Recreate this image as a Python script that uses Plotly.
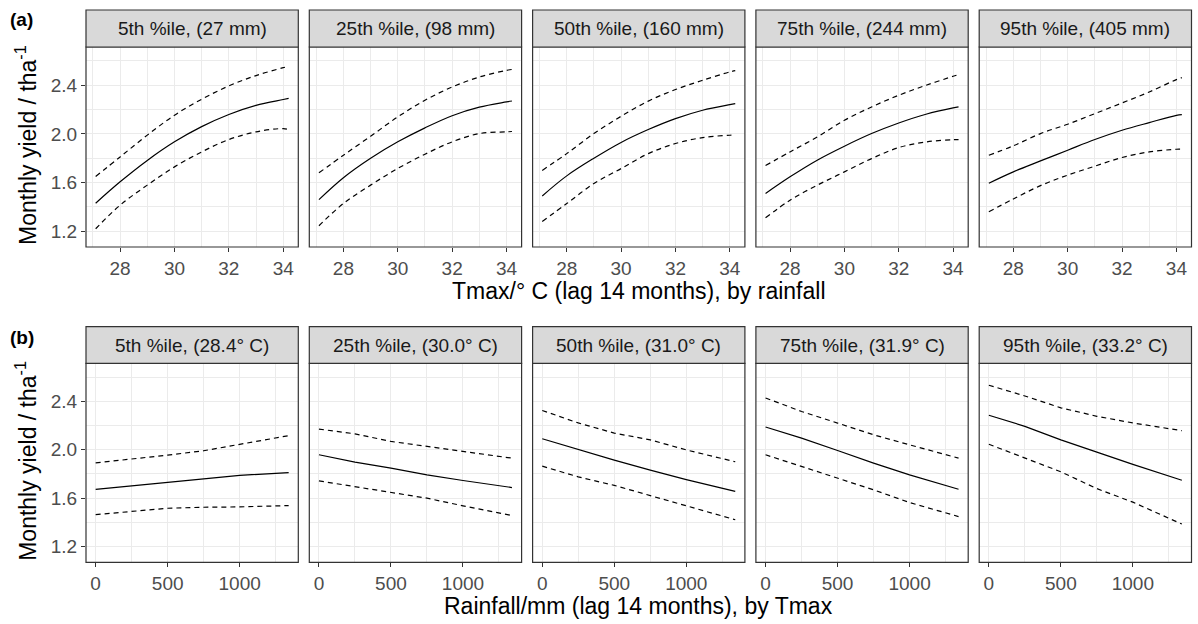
import plotly.graph_objects as go

# ---------------- data ----------------
tmax_x = [27.1, 28, 29, 30, 31, 32, 33, 34, 34.2]
rain_x = [0, 250, 500, 750, 1000, 1340]

strip_a = ["5th %ile, (27 mm)", "25th %ile, (98 mm)", "50th %ile, (160 mm)",
           "75th %ile, (244 mm)", "95th %ile, (405 mm)"]
strip_b = ["5th %ile, (28.4° C)", "25th %ile, (30.0° C)", "50th %ile, (31.0° C)",
           "75th %ile, (31.9° C)", "95th %ile, (33.2° C)"]

fit_a = [
    [1.43, 1.606, 1.782, 1.935, 2.06, 2.16, 2.235, 2.283, 2.293],
    [1.46, 1.64, 1.80, 1.935, 2.05, 2.15, 2.22, 2.263, 2.271],
    [1.49, 1.655, 1.80, 1.93, 2.036, 2.126, 2.195, 2.241, 2.249],
    [1.51, 1.647, 1.784, 1.899, 2.003, 2.09, 2.162, 2.214, 2.222],
    [1.595, 1.688, 1.778, 1.866, 1.954, 2.030, 2.093, 2.153, 2.159],
]
upper_a = [
    [1.65, 1.811, 1.99, 2.154, 2.285, 2.395, 2.48, 2.545, 2.555],
    [1.68, 1.825, 1.981, 2.14, 2.277, 2.386, 2.468, 2.523, 2.53],
    [1.70, 1.838, 2.003, 2.145, 2.27, 2.365, 2.441, 2.51, 2.52],
    [1.74, 1.852, 1.975, 2.112, 2.222, 2.318, 2.40, 2.474, 2.488],
    [1.825, 1.902, 2.003, 2.080, 2.167, 2.255, 2.345, 2.447, 2.463],
]
lower_a = [
    [1.22, 1.414, 1.579, 1.729, 1.852, 1.954, 2.017, 2.044, 2.035],
    [1.245, 1.428, 1.579, 1.716, 1.833, 1.935, 2.003, 2.017, 2.02],
    [1.28, 1.427, 1.592, 1.715, 1.838, 1.921, 1.970, 1.989, 1.99],
    [1.31, 1.455, 1.578, 1.688, 1.797, 1.888, 1.934, 1.953, 1.953],
    [1.36, 1.465, 1.575, 1.661, 1.735, 1.806, 1.852, 1.874, 1.874],
]

fit_b = [
    [1.672, 1.70, 1.728, 1.76, 1.789, 1.811],
    [1.959, 1.898, 1.848, 1.793, 1.746, 1.688],
    [2.091, 2.0, 1.915, 1.832, 1.754, 1.656],
    [2.188, 2.097, 1.994, 1.890, 1.793, 1.674],
    [2.286, 2.194, 2.082, 1.979, 1.879, 1.748],
]
upper_b = [
    [1.892, 1.922, 1.956, 1.992, 2.044, 2.117],
    [2.171, 2.132, 2.069, 2.028, 1.986, 1.931],
    [2.325, 2.222, 2.138, 2.082, 1.999, 1.901],
    [2.428, 2.317, 2.221, 2.124, 2.041, 1.931],
    [2.534, 2.445, 2.347, 2.277, 2.222, 2.158],
]
lower_b = [
    [1.464, 1.492, 1.517, 1.525, 1.528, 1.539],
    [1.743, 1.697, 1.647, 1.60, 1.537, 1.457],
    [1.865, 1.776, 1.706, 1.622, 1.539, 1.422],
    [1.959, 1.862, 1.766, 1.669, 1.564, 1.448],
    [2.046, 1.929, 1.818, 1.679, 1.567, 1.386],
]

y_title = "Monthly yield / tha<sup>-1</sup>"
x_title_a = "Tmax/° C (lag 14 months), by rainfall"
x_title_b = "Rainfall/mm (lag 14 months), by Tmax"

# ---------------- layout geometry (pixels) ----------------
W, H = 1198, 624
FONT = "Liberation Sans, Arial, sans-serif"
def px(x): return x / W
def py(y): return 1 - y / H

left0, pitch, pw = 86, 223.3, 212.3
rows = [  # strip top, plot top, plot bottom
    (10, 47, 247),
    (326.7, 363.3, 562.3),
]
y_range = [1.07, 2.715]
x_ranges = [[26.745, 34.555], [-67, 1407]]

fig = go.Figure()
layout = {}
shapes = []
annotations = []
GRID = "#EBEBEB"
BORDER = "#333333"
TICK_SIZE = 19
STRIP_SIZE = 19
TITLE_SIZE = 23
DASH = "5px,4px"

for r in range(2):
    st, pt, pb = rows[r]
    for c in range(5):
        k = r * 5 + c + 1
        xa = "x" if k == 1 else f"x{k}"
        ya = "y" if k == 1 else f"y{k}"
        xk = "xaxis" if k == 1 else f"xaxis{k}"
        yk = "yaxis" if k == 1 else f"yaxis{k}"
        x0 = left0 + pitch * c
        x1 = x0 + pw
        if r == 0:
            xs = tmax_x
            series = [(upper_a[c], DASH), (lower_a[c], DASH), (fit_a[c], "solid")]
            xticks = dict(tickmode="array", tickvals=[28, 30, 32, 34])
            minor = dict(tickmode="array", tickvals=[27, 29, 31, 33], showgrid=True,
                         gridcolor=GRID, gridwidth=0.6, ticks="")
            shape = "spline"
        else:
            xs = rain_x
            series = [(upper_b[c], DASH), (lower_b[c], DASH), (fit_b[c], "solid")]
            xticks = dict(tickmode="array", tickvals=[0, 500, 1000])
            minor = dict(tickmode="array", tickvals=[250, 750, 1250], showgrid=True,
                         gridcolor=GRID, gridwidth=0.6, ticks="")
            shape = "linear"
        for ys, dash in series:
            fig.add_trace(go.Scatter(x=xs, y=ys, mode="lines", xaxis=xa, yaxis=ya,
                                     line=dict(color="black", width=1.2, dash=dash, shape=shape),
                                     showlegend=False, hoverinfo="skip"))
        layout[xk] = dict(domain=[px(x0), px(x1)], anchor=ya, range=x_ranges[r],
                          showgrid=True, gridcolor=GRID, gridwidth=1.1, zeroline=False,
                          ticks="outside", ticklen=4, tickwidth=1, tickcolor=BORDER,
                          tickfont=dict(family=FONT, size=TICK_SIZE, color="#4D4D4D"),
                          showline=False, minor=minor, fixedrange=True, **xticks)
        layout[yk] = dict(domain=[py(pb), py(pt)], anchor=xa, range=y_range,
                          tickmode="array", tickvals=[1.2, 1.6, 2.0, 2.4],
                          ticktext=["1.2", "1.6", "2.0", "2.4"],
                          showgrid=True, gridcolor=GRID, gridwidth=1.1, zeroline=False,
                          ticks="outside" if c == 0 else "", ticklen=4, tickwidth=1,
                          tickcolor=BORDER, showticklabels=(c == 0),
                          tickfont=dict(family=FONT, size=TICK_SIZE, color="#4D4D4D"),
                          minor=dict(tickmode="array", tickvals=[1.4, 1.8, 2.2, 2.6],
                                     showgrid=True, gridcolor=GRID, gridwidth=0.6, ticks=""),
                          showline=False, fixedrange=True)
        # panel border
        shapes.append(dict(type="rect", xref="paper", yref="paper",
                           x0=px(x0), x1=px(x1), y0=py(pb), y1=py(pt),
                           line=dict(color=BORDER, width=1.2), fillcolor="rgba(0,0,0,0)",
                           layer="above"))
        # strip
        shapes.append(dict(type="rect", xref="paper", yref="paper",
                           x0=px(x0), x1=px(x1), y0=py(pt), y1=py(st),
                           line=dict(color=BORDER, width=1.2), fillcolor="#D9D9D9",
                           layer="above"))
        annotations.append(dict(xref="paper", yref="paper", x=px((x0 + x1) / 2),
                                y=py((st + pt) / 2), text=(strip_a if r == 0 else strip_b)[c],
                                showarrow=False, xanchor="center", yanchor="middle",
                                font=dict(family=FONT, size=STRIP_SIZE, color="#1A1A1A")))
    # y axis title
    annotations.append(dict(xref="paper", yref="paper", x=px(26), y=py((pt + pb) / 2 - 2),
                            text=y_title, textangle=-90, showarrow=False,
                            xanchor="center", yanchor="middle",
                            font=dict(family=FONT, size=TITLE_SIZE, color="black")))

# x axis titles
annotations.append(dict(xref="paper", yref="paper", x=px(left0 + (pitch * 4 + pw) / 2),
                        y=py(291), text=x_title_a, showarrow=False,
                        xanchor="center", yanchor="middle",
                        font=dict(family=FONT, size=TITLE_SIZE, color="black")))
annotations.append(dict(xref="paper", yref="paper", x=px(left0 + (pitch * 4 + pw) / 2),
                        y=py(606), text=x_title_b, showarrow=False,
                        xanchor="center", yanchor="middle",
                        font=dict(family=FONT, size=TITLE_SIZE, color="black")))
# panel tags
annotations.append(dict(xref="paper", yref="paper", x=px(8), y=py(19), text="<b>(a)</b>",
                        showarrow=False, xanchor="left", yanchor="middle",
                        font=dict(family=FONT, size=19, color="black")))
annotations.append(dict(xref="paper", yref="paper", x=px(8), y=py(337), text="<b>(b)</b>",
                        showarrow=False, xanchor="left", yanchor="middle",
                        font=dict(family=FONT, size=19, color="black")))

fig.update_layout(width=W, height=H, margin=dict(l=0, r=0, t=0, b=0),
                  paper_bgcolor="white", plot_bgcolor="white",
                  shapes=shapes, annotations=annotations, showlegend=False, **layout)

fig.write_html("out.html", config={"displayModeBar": False},
               post_script="document.body.style.margin='0';document.body.style.padding='0';document.body.style.overflow='hidden';")
